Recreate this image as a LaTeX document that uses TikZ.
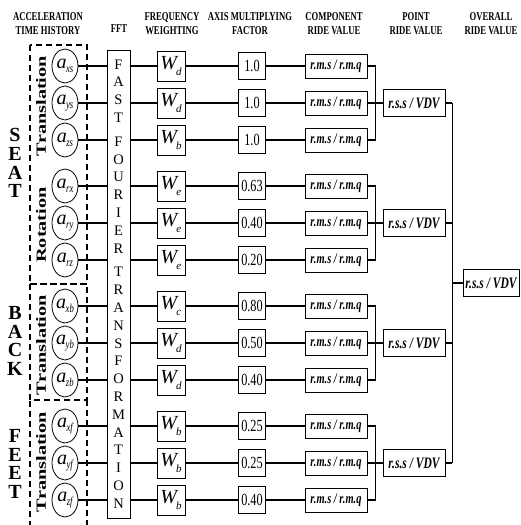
\documentclass[tikz,border=0pt]{standalone}
\usepackage{fontspec}
\setmainfont{Liberation Serif}
\newfontfamily\condfont[FakeStretch=0.72]{Liberation Serif}
\newfontfamily\widefont[FakeStretch=1.45]{Liberation Serif}
\usetikzlibrary{shapes.geometric}

% symbols inside the boxes
\newcommand{\accsym}[1]{{\itshape\fontsize{20}{20}\selectfont a}\hspace{-0.5pt}\raisebox{-4pt}{\condfont\itshape\fontsize{12}{12}\selectfont #1}}
\newcommand{\wsym}[1]{{\itshape\fontsize{20}{20}\selectfont W}\hspace{-1pt}\raisebox{-6pt}{\itshape\fontsize{11}{11}\selectfont #1}}

\tikzset{
  head/.style={font=\condfont\bfseries\fontsize{12}{14}\selectfont, align=center},
  link/.style={line width=1.1pt},
  accnode/.style={ellipse, draw, line width=0.8pt, minimum width=26pt, minimum height=34pt, inner sep=0pt},
  fftbox/.style={draw, line width=0.8pt, minimum width=23pt, minimum height=468pt, inner sep=0pt,
    align=center, font=\fontsize{14.5}{17.8}\selectfont},
  wbox/.style={draw, line width=0.8pt, minimum width=28pt, minimum height=30pt, inner sep=0pt},
  facbox/.style={draw, line width=0.8pt, minimum width=27pt, minimum height=27pt, inner sep=0pt,
    font=\condfont\fontsize{17}{17}\selectfont},
  rbox/.style={draw, line width=0.8pt, minimum width=62pt, minimum height=24pt, inner sep=0pt,
    font=\condfont\bfseries\itshape\fontsize{14.5}{14.5}\selectfont},
  pbox/.style={draw, line width=0.8pt, minimum width=62pt, minimum height=27pt, inner sep=0pt,
    font=\condfont\bfseries\itshape\fontsize{16}{16}\selectfont},
  grpbox/.style={line width=1.8pt, dash pattern=on 6pt off 4pt},
  grplab/.style={rotate=90, font=\widefont\bfseries\fontsize{14}{14}\selectfont},
  site/.style={align=center, font=\bfseries\fontsize{20}{18.8}\selectfont},
}

\begin{document}
\begin{tikzpicture}[x=1pt,y=-1pt]
\useasboundingbox (0,0) rectangle (520,525);

% column heads
\node[head] (h1) at (48,24) {ACCELERATION\\TIME HISTORY};
\node[head] (h2) at (119,29) {FFT};
\node[head] (h3) at (172,24) {FREQUENCY\\WEIGHTING};
\node[head] (h4) at (250,24) {AXIS MULTIPLYING\\FACTOR};
\node[head] (h5) at (334,24) {COMPONENT\\RIDE VALUE};
\node[head] (h6) at (416,24) {POINT\\RIDE VALUE};
\node[head] (h7) at (491,24) {OVERALL\\RIDE VALUE};

% measuring points
\node[site] (seat) at (15,163) {S\\E\\A\\T};
\node[site] (back) at (15,341) {B\\A\\C\\K};
\node[site] (feet) at (15,464) {F\\E\\E\\T};

% dashed groups
\draw[grpbox] (30,45) rectangle (87,284);
\draw[grpbox] (30,284) rectangle (87,400);
\draw[grpbox] (30,527) -- (30,400);
\draw[grpbox] (87,400) -- (87,527);
\node[grplab] (tr1) at (41,106) {Translation};
\node[grplab] (rot) at (41,225) {Rotation};
\node[grplab] (tr2) at (41,345) {Translation};
\node[grplab] (tr3) at (41,462) {Translation};

% FFT block
\node[fftbox] (fft) at (118.5,284) {F\\A\\S\\T\\[6pt]F\\O\\U\\R\\I\\E\\R\\[6pt]T\\R\\A\\N\\S\\F\\O\\R\\M\\A\\T\\I\\O\\N};

% one row per signal
\foreach \i/\y/\a/\w/\f in {1/66/xs/d/1.0, 2/103/ys/d/1.0, 3/140/zs/b/1.0,
    4/186/rx/e/0.63, 5/223/ry/e/0.40, 6/260/rz/e/0.20,
    7/306/xb/c/0.80, 8/343/yb/d/0.50, 9/380/zb/d/0.40,
    10/426/xf/b/0.25, 11/463/yf/b/0.25, 12/500/zf/b/0.40}
{
  \node[accnode] (acc\i) at (65,\y) {\accsym{\a}};
  \node[wbox] (wgt\i) at (171,\y) {\wsym{\w}};
  \node[facbox] (fac\i) at (252,\y) {\f};
  \node[rbox] (crv\i) at (336,\y) {r.m.s / r.m.q};
  \draw[link] (acc\i) -- (acc\i -| fft.west);
  \draw[link] (fft.east |- wgt\i) -- (wgt\i);
  \draw[link] (wgt\i) -- (fac\i);
  \draw[link] (fac\i) -- (crv\i);
}

% point ride values
\foreach \j/\a/\m/\b in {1/1/2/3, 2/4/5/6, 3/7/8/9, 4/10/11/12}
{
  \node[pbox] (prv\j) at ([xshift=78pt]crv\m) {r.s.s / VDV};
  \draw[link] (crv\a.east) -- ++(8,0) coordinate (top\j) -- (top\j |- crv\b) -- (crv\b.east);
  \draw[link] (crv\m) -- (prv\j);
  \draw[link] (prv\j.east) -- ++(7,0) coordinate (pj\j);
}

% overall ride value
\node[pbox, minimum width=56pt] (orv) at (491,283) {r.s.s / VDV};
\draw[link] (pj1) -- (pj4);
\draw[link] (orv.west) -- (orv.west -| pj1);
\end{tikzpicture}
\end{document}
